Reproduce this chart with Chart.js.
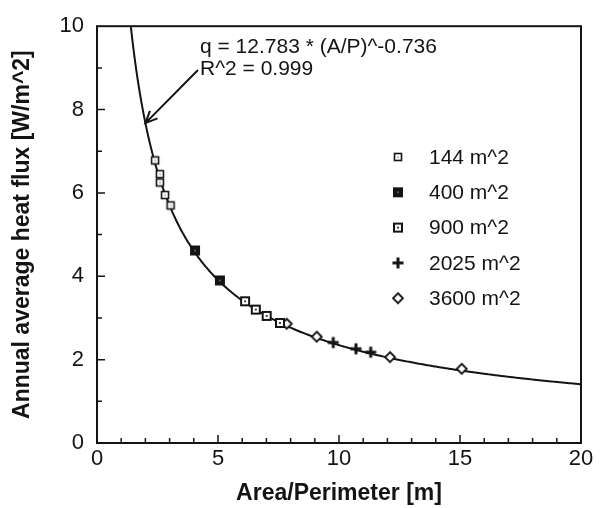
<!DOCTYPE html>
<html>
<head>
<meta charset="utf-8">
<title>Annual average heat flux vs Area/Perimeter</title>
<script src="https://cdn.jsdelivr.net/npm/chart.js@4.4.0/dist/chart.umd.min.js"></script>
<style>
  html, body { margin: 0; padding: 0; background: #ffffff; }
  #wrap { width: 606px; height: 508px; }
</style>
</head>
<body>
<div id="wrap"><canvas id="c" width="606" height="508"></canvas></div>
<script>
// ---- data: area/perimeter ratio [m] and annual average heat flux [W/m^2] ----
const ap144  = [2.40, 2.60, 2.60, 2.81, 3.04];
const q144   = [6.78, 6.45, 6.25, 5.95, 5.70];
const ap400  = [4.05, 5.08];
const q400   = [4.62, 3.90];
const ap900  = [6.12, 6.56, 7.01, 7.56];
const q900   = [3.40, 3.20, 3.05, 2.88];
const ap2025 = [9.76, 10.70, 11.31];
const q2025  = [2.41, 2.26, 2.18];
const ap3600 = [7.84, 9.08, 12.11, 15.07];
const q3600  = [2.86, 2.55, 2.06, 1.78];

const seriesNames = ['144 m^2', '400 m^2', '900 m^2', '2025 m^2', '3600 m^2'];

// power-law fit printed on the chart: q = 12.783 * (A/P)^-0.736
const FIT_COEF = 12.783;
const FIT_EXP  = -0.736;
const FIT_R2   = 0.999;

const xTicks = [0, 5, 10, 15, 20];
const yTicks = [0, 2, 4, 6, 8, 10];

const INK = '#141414';
const FONT = "'Liberation Sans', Arial, Helvetica, sans-serif";

// fitted curve sampled over the visible range
const fitCurve = [];
{
  const xStart = Math.pow(FIT_COEF / 10, 1 / -FIT_EXP);
  for (let x = xStart; x <= 20.0001; x += 0.05) {
    fitCurve.push({ x: x, y: FIT_COEF * Math.pow(x, FIT_EXP) });
  }
  fitCurve.push({ x: 20, y: FIT_COEF * Math.pow(20, FIT_EXP) });
}

function pairs(xs, ys) { return xs.map((x, i) => ({ x: x, y: ys[i] })); }

// ---- marker glyphs ----
function makeMarker(kind) {
  const c = document.createElement('canvas');
  c.width = 14; c.height = 14;
  const g = c.getContext('2d');
  g.strokeStyle = INK; g.fillStyle = '#ffffff';
  if (kind === 'open') {
    g.lineWidth = 1.6;
    g.fillRect(3, 3, 8, 8);
    g.strokeRect(3.5, 3.5, 7, 7);
    g.fillStyle = '#666'; g.fillRect(6.5, 6.5, 1.2, 1.2);
  } else if (kind === 'filled') {
    g.fillStyle = INK;
    g.fillRect(2, 2, 10, 10);
    g.fillStyle = '#555'; g.fillRect(6, 6, 2, 2);
  } else if (kind === 'dot') {
    g.lineWidth = 2;
    g.fillRect(2, 2, 10, 10);
    g.strokeRect(3, 3, 8, 8);
    g.fillStyle = '#444'; g.fillRect(6, 6, 2, 2);
  } else if (kind === 'plus') {
    g.lineWidth = 3;
    g.beginPath();
    g.moveTo(7, 1.5); g.lineTo(7, 12.5);
    g.moveTo(1.5, 7); g.lineTo(12.5, 7);
    g.stroke();
  } else if (kind === 'diamond') {
    g.lineWidth = 1.8;
    g.beginPath();
    g.moveTo(7, 2); g.lineTo(12, 7); g.lineTo(7, 12); g.lineTo(2, 7); g.closePath();
    g.fill(); g.stroke();
  }
  return c;
}
const markers = ['open', 'filled', 'dot', 'plus', 'diamond'].map(makeMarker);

const scatterSets = [
  pairs(ap144, q144), pairs(ap400, q400), pairs(ap900, q900),
  pairs(ap2025, q2025), pairs(ap3600, q3600)
].map((pts, i) => ({
  type: 'scatter',
  label: seriesNames[i],
  data: pts,
  pointStyle: markers[i],
  pointRadius: 7,
  pointHoverRadius: 7,
  order: 1
}));

// ---- frame, inward ticks, legend and fit annotation ----
const decorations = {
  id: 'decorations',
  afterDraw(chart) {
    const g = chart.ctx;
    const a = chart.chartArea;
    const xs = chart.scales.x, ys = chart.scales.y;
    g.save();
    g.strokeStyle = INK;
    g.lineWidth = 2;
    g.strokeRect(a.left, a.top, a.right - a.left, a.bottom - a.top);

    g.lineWidth = 1.5;
    g.beginPath();
    for (let v = 1; v < 20; v++) {
      const px = xs.getPixelForValue(v);
      const len = (v % 5 === 0) ? 8 : 5;
      g.moveTo(px, a.bottom); g.lineTo(px, a.bottom - len);
    }
    for (let v = 1; v < 10; v++) {
      const py = ys.getPixelForValue(v);
      const len = (v % 2 === 0) ? 8 : 5;
      g.moveTo(a.left, py); g.lineTo(a.left + len, py);
    }
    g.stroke();

    // legend
    g.font = '21px ' + FONT;
    g.fillStyle = INK;
    g.textBaseline = 'middle';
    g.textAlign = 'left';
    seriesNames.forEach((name, i) => {
      const y = 157 + i * 35.3;
      g.drawImage(markers[i], 398 - 7, y - 7);
      g.fillText(name, 429, y + 1);
    });

    // fit equation and arrow pointing at the curve
    g.font = '21px ' + FONT;
    g.textBaseline = 'alphabetic';
    g.fillText('q = ' + FIT_COEF + ' * (A/P)^' + FIT_EXP, 200, 53);
    g.fillText('R^2 = ' + FIT_R2, 200, 75);

    const tipX = xs.getPixelForValue(2.0);
    const tipY = ys.getPixelForValue(FIT_COEF * Math.pow(2.0, FIT_EXP));
    const sx = 198, sy = 70;
    const ang = Math.atan2(tipY - sy, tipX - sx);
    g.lineWidth = 2;
    g.beginPath();
    g.moveTo(sx, sy); g.lineTo(tipX, tipY);
    const hl = 13, ha = 0.42;
    g.moveTo(tipX - hl * Math.cos(ang - ha), tipY - hl * Math.sin(ang - ha));
    g.lineTo(tipX, tipY);
    g.lineTo(tipX - hl * Math.cos(ang + ha), tipY - hl * Math.sin(ang + ha));
    g.stroke();
    g.restore();
  }
};

new Chart(document.getElementById('c'), {
  type: 'scatter',
  data: {
    datasets: [
      {
        type: 'line',
        label: 'fit',
        data: fitCurve,
        borderColor: INK,
        borderWidth: 2,
        pointRadius: 0,
        pointHoverRadius: 0,
        tension: 0,
        fill: false,
        order: 2
      },
      ...scatterSets
    ]
  },
  options: {
    responsive: false,
    animation: false,
    events: [],
    layout: { padding: { left: 0, top: 20, right: 25, bottom: 0 } },
    plugins: {
      legend: { display: false },
      tooltip: { enabled: false }
    },
    scales: {
      x: {
        type: 'linear',
        min: 0, max: 20,
        afterFit(scale) { scale.height = 65; },
        afterBuildTicks(scale) { scale.ticks = xTicks.map(v => ({ value: v })); },
        grid: { display: false, drawTicks: false },
        border: { display: false },
        ticks: { color: INK, font: { family: FONT, size: 22 }, padding: 3, maxRotation: 0 },
        title: {
          display: true, text: 'Area/Perimeter [m]', color: INK,
          font: { family: FONT, size: 23, weight: 'bold' },
          padding: { top: 0, bottom: 1 }
        }
      },
      y: {
        type: 'linear',
        min: 0, max: 10,
        afterFit(scale) { scale.width = 97; },
        afterBuildTicks(scale) { scale.ticks = yTicks.map(v => ({ value: v })); },
        grid: { display: false, drawTicks: false },
        border: { display: false },
        ticks: { color: INK, font: { family: FONT, size: 22 }, padding: 13 },
        title: {
          display: true, text: 'Annual average heat flux [W/m^2]', color: INK,
          font: { family: FONT, size: 23, weight: 'bold' },
          padding: { top: 9, bottom: 0 }
        }
      }
    }
  },
  plugins: [decorations]
});
</script>
</body>
</html>
